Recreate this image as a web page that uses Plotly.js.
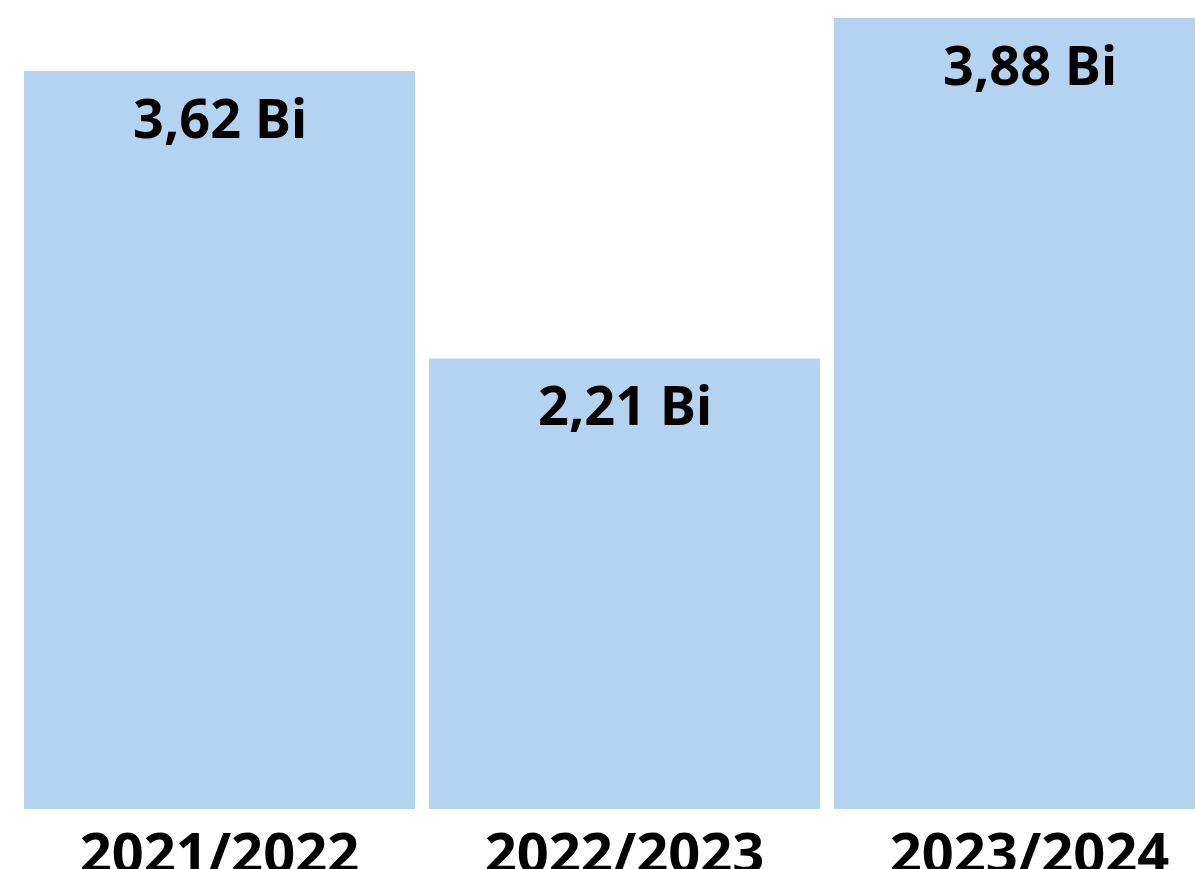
<!DOCTYPE html>
<html>
<head>
<meta charset="utf-8">
<script src="https://cdn.plot.ly/plotly-3.0.1.min.js"></script>
<style>html,body{margin:0;padding:0;background:#fff;}#chart{width:1195px;height:869px;}</style>
</head>
<body>
<div id="chart"></div>
<script>
const categories = ["2021/2022", "2022/2023", "2023/2024"];
const values = [3.62, 2.21, 3.88];
const valueLabels = ["3,62 Bi", "2,21 Bi", "3,88 Bi"];

const FONT = "Noto Sans, Open Sans, sans-serif";

const trace = {
  type: "bar",
  x: categories,
  y: values,
  marker: {color: "#B3D3F1", line: {width: 0}},
  hoverinfo: "none"
};

const annotations = categories.map((c, i) => ({
  x: c,
  y: values[i],
  xref: "x",
  yref: "y",
  text: valueLabels[i],
  showarrow: false,
  xanchor: "center",
  yanchor: "middle",
  yshift: -46,
  font: {family: FONT, size: 54, color: "#000000", weight: "bold"}
}));

const layout = {
  width: 1195,
  height: 869,
  margin: {l: 17, r: 0, t: 0, b: 60, pad: 0},
  paper_bgcolor: "#ffffff",
  plot_bgcolor: "#ffffff",
  bargap: 0.0346,
  showlegend: false,
  annotations: annotations,
  xaxis: {
    type: "category",
    range: [-0.5, 2.4086],
    showgrid: false,
    zeroline: false,
    showline: false,
    ticks: "",
    ticklabelstandoff: 7,
    tickfont: {family: FONT, size: 56, color: "#000000", weight: "bold"},
    fixedrange: true
  },
  yaxis: {
    range: [0, 3.968],
    showgrid: false,
    zeroline: false,
    showline: false,
    showticklabels: false,
    ticks: "",
    fixedrange: true
  }
};

Plotly.newPlot("chart", [trace], layout, {displayModeBar: false, staticPlot: true});
</script>
</body>
</html>
